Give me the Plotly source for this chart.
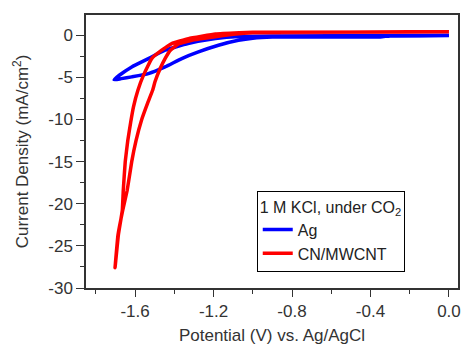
import plotly.graph_objects as go

# Ag electrode CV (potential V, current density mA/cm2)
ag_potential = [0.0, -0.3, -0.35, -0.9, -1.0, -1.073, -1.175, -1.277, -1.362, -1.447, -1.532, -1.617, -1.67, -1.707,
                -1.68, -1.617, -1.532, -1.447, -1.33, -1.19, -1.07, -0.9, -0.3, 0.0]
ag_current = [-0.05, -0.08, -0.2, -0.22, -0.35, -0.6, -1.19, -1.98, -2.77, -3.76, -4.55, -4.94, -5.15, -5.3,
              -4.75, -3.76, -2.77, -1.78, -0.99, -0.4, -0.15, -0.08, -0.05, 0.0]

# CN/MWCNT electrode CV
cn_potential = [0.0, -1.0, -1.07, -1.19, -1.328, -1.413, -1.464, -1.515, -1.557, -1.585, -1.608, -1.622, -1.637, -1.65, -1.66, -1.665, -1.685, -1.702,
                -1.687, -1.663, -1.64, -1.617, -1.595, -1.566, -1.535, -1.51, -1.498, -1.472, -1.447, -1.42, -1.38, -1.3, -1.2, -1.1, -1.0, 0.0]
cn_current = [0.38, 0.35, 0.3, 0.15, -0.4, -0.99, -1.78, -2.77, -4.74, -6.5, -8.5, -10.3, -12.5, -15.0, -18.4, -20.8, -23.7, -27.6,
              -23.7, -20.8, -18.4, -15.0, -12.5, -10.0, -8.0, -6.5, -5.5, -3.95, -2.77, -1.78, -1.05, -0.55, -0.2, 0.1, 0.28, 0.42]

x_tickvals = [-1.6, -1.2, -0.8, -0.4, 0.0]
x_ticktext = ["-1.6", "-1.2", "-0.8", "-0.4", "0.0"]
y_tickvals = [0, -5, -10, -15, -20, -25, -30]
y_ticktext = ["0", "-5", "-10", "-15", "-20", "-25", "-30"]

font_family = "Liberation Sans, Arial, sans-serif"
axis_color = "#333333"

fig = go.Figure()
fig.add_trace(go.Scatter(x=ag_potential, y=ag_current, mode="lines", name="Ag",
                         line=dict(color="#0000ff", width=3.5, shape="spline", smoothing=0.4)))
fig.add_trace(go.Scatter(x=cn_potential, y=cn_current, mode="lines", name="CN/MWCNT",
                         line=dict(color="#ff0000", width=3.5, shape="spline", smoothing=0.3)))

fig.update_layout(
    width=462, height=345,
    margin=dict(l=86, r=4, t=15, b=57),
    paper_bgcolor="white", plot_bgcolor="white",
    font=dict(family=font_family, color=axis_color, size=16),
    showlegend=True,
    legend=dict(
        x=0.459, y=0.356, xanchor="left", yanchor="top",
        bordercolor="#000000", borderwidth=1, bgcolor="white",
        font=dict(size=16, color="#222222", family=font_family),
        title=dict(text="1 M KCl, under CO<sub>2</sub>", side="top",
                   font=dict(size=16, color="#222222", family=font_family)),
        itemwidth=30, tracegroupgap=0,
    ),
    xaxis=dict(
        range=[-1.85, 0.046], showgrid=False, zeroline=False, automargin=False,
        showline=True, linecolor=axis_color, linewidth=1.5, mirror=True,
        ticks="outside", ticklen=7, tickwidth=1.2, tickcolor=axis_color,
        tickvals=x_tickvals, ticktext=x_ticktext,
        tickfont=dict(size=17, color=axis_color),
        minor=dict(dtick=0.2, tick0=0, ticks="outside", ticklen=4, tickwidth=1.2, tickcolor=axis_color, showgrid=False),
        title=dict(text="Potential (V) vs. Ag/AgCl", font=dict(size=17, color=axis_color)),
    ),
    yaxis=dict(
        range=[-30, 2.4], showgrid=False, zeroline=False, automargin=False,
        showline=True, linecolor=axis_color, linewidth=1.5, mirror=True,
        ticks="outside", ticklen=8, tickwidth=1.2, tickcolor=axis_color,
        tickvals=y_tickvals, ticktext=y_ticktext,
        tickfont=dict(size=17, color=axis_color),
        minor=dict(dtick=2.5, tick0=0, ticks="outside", ticklen=4, tickwidth=1.2, tickcolor=axis_color, showgrid=False),
        title=dict(text="Current Density (mA/cm<sup>2</sup>)", font=dict(size=17, color=axis_color)),
    ),
)

fig.write_html("out.html", config={"displayModeBar": False},
               post_script="document.body.style.margin='0';")
